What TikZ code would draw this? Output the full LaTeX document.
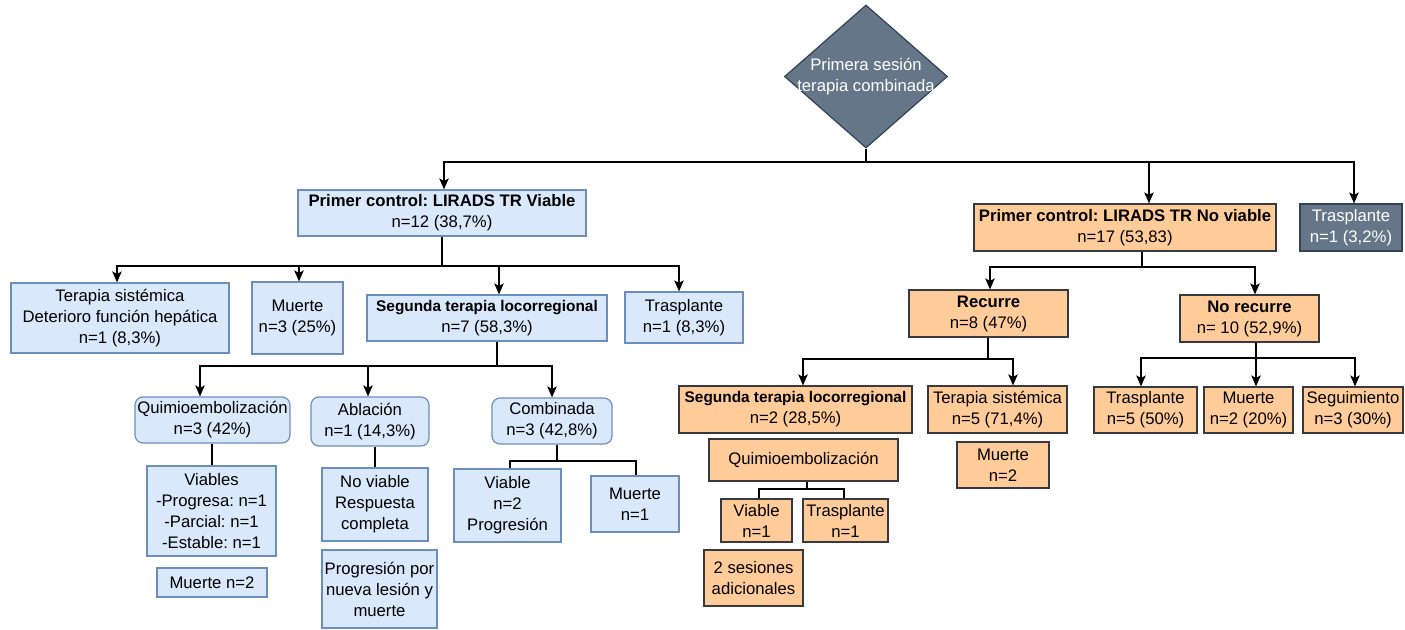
\documentclass[tikz,border=0pt]{standalone}
\usepackage{fontspec}
\setmainfont{Liberation Sans}
\usetikzlibrary{shapes.geometric,arrows.meta,calc}
\definecolor{bfill}{HTML}{DAE8FC}
\definecolor{bdraw}{HTML}{6C8EBF}
\definecolor{ofill}{HTML}{FFCC99}
\definecolor{odraw}{HTML}{36393D}
\definecolor{gfill}{HTML}{647687}
\definecolor{gdraw}{HTML}{314354}
\frenchspacing
\newcommand\fs{\fontsize{16.7}{21}\selectfont}
\newcommand\fsb{\fontsize{15.4}{21}\selectfont}
\newcommand\mkbox[7]{\node[#2,minimum width={(#5-#3)*1pt},minimum height={(#6-#4)*1pt}] (#1) at ({(#3+#5)/2},{(#4+#6)/2}) {#7};}
\tikzset{
  box/.style={draw, line width=1.2pt, align=center, inner sep=1pt, font=\fs, text=black},
  bluebox/.style={box, fill=bfill, draw=bdraw},
  orangebox/.style={box, fill=ofill, draw=odraw},
  greybox/.style={box, fill=gfill, draw=gdraw, text=white},
  rnd/.style={rounded corners=8pt},
  ln/.style={line width=1.3pt, draw=black},
  arr/.style={ln, -{Stealth[length=11pt,width=9.5pt,inset=2.5pt]}}
}
\begin{document}
\begin{tikzpicture}[x=1pt,y=-1pt]
\useasboundingbox (0,0) rectangle (1405,629);
% root
\node[diamond, fill=gfill, draw=gdraw, line width=1.2pt, minimum width=163pt, minimum height=143pt, inner sep=0pt] (root) at (866,76.5) {};
\node[font=\fs, text=white, align=center, inner sep=0pt] (rootlbl) at (root.center) {Primera sesión\\terapia combinada};
% left branch
\mkbox{pv}{bluebox}{298}{190}{586}{236}{\textbf{Primer control: LIRADS TR Viable}\\n=12 (38,7\%)}
\mkbox{tsL}{bluebox}{11}{283}{229}{353}{Terapia sistémica\\Deterioro función hepática\\n=1 (8,3\%)}
\mkbox{mL}{bluebox}{252}{282}{343}{354}{Muerte\\n=3 (25\%)}
\mkbox{sgL}{bluebox}{367}{295}{607}{341}{{\fsb\textbf{Segunda terapia locorregional}}\\n=7 (58,3\%)}
\mkbox{trL}{bluebox}{625}{292}{743}{343}{Trasplante\\n=1 (8,3\%)}
\mkbox{qL}{bluebox,rnd}{135}{397}{290}{443}{Quimioembolización\\n=3 (42\%)}
\mkbox{abL}{bluebox,rnd}{311}{397}{429}{446}{Ablación\\n=1 (14,3\%)}
\mkbox{cbL}{bluebox,rnd}{492}{398}{612}{444}{Combinada\\n=3 (42,8\%)}
\mkbox{vbL}{bluebox}{147}{466}{276}{556}{Viables\\-Progresa: n=1\\-Parcial: n=1\\-Estable: n=1}
\mkbox{m2L}{bluebox}{157}{568}{267}{597}{Muerte n=2}
\mkbox{nvL}{bluebox}{322}{468}{428}{541}{No viable\\Respuesta\\completa}
\mkbox{prL}{bluebox}{322}{550}{437}{628}{Progresión por\\nueva lesión y\\muerte}
\mkbox{vL}{bluebox}{454}{469}{561}{542}{Viable\\n=2\\Progresión}
\mkbox{m1L}{bluebox}{591}{476}{679}{532}{Muerte\\n=1}
% right branch
\mkbox{pnv}{orangebox}{974}{204}{1276}{251}{\textbf{Primer control: LIRADS TR No viable}\\n=17 (53,83)}
\mkbox{trG}{greybox}{1300}{204}{1402}{251}{Trasplante\\n=1 (3,2\%)}
\mkbox{rec}{orangebox}{909}{290}{1068}{337}{\textbf{Recurre}\\n=8 (47\%)}
\mkbox{nrec}{orangebox}{1180}{295}{1319}{342}{\textbf{No recurre}\\n= 10 (52,9\%)}
\mkbox{sgR}{orangebox}{679}{386}{912}{433}{{\fsb\textbf{Segunda terapia locorregional}}\\n=2 (28,5\%)}
\mkbox{tsR}{orangebox}{928}{386}{1067}{433}{Terapia sistémica\\n=5 (71,4\%)}
\mkbox{qR}{orangebox}{709}{439}{898}{481}{Quimioembolización}
\mkbox{m2R}{orangebox}{957}{442}{1049}{488}{Muerte\\n=2}
\mkbox{vR}{orangebox}{721}{499}{792}{542}{Viable\\n=1}
\mkbox{tR}{orangebox}{803}{499}{888}{542}{Trasplante\\n=1}
\mkbox{sesR}{orangebox}{704}{550}{803}{606}{2 sesiones\\adicionales}
\mkbox{trR}{orangebox}{1094}{387}{1197}{433}{Trasplante\\n=5 (50\%)}
\mkbox{mR}{orangebox}{1204}{387}{1293}{433}{Muerte\\n=2 (20\%)}
\mkbox{segR}{orangebox}{1303}{387}{1403}{433}{Seguimiento\\n=3 (30\%)}
% junctions
\coordinate (j0) at (866,162);
\coordinate (j1) at (442,266);
\coordinate (j2) at (497,366);
\coordinate (j3) at (557,461);
\coordinate (j4) at (1142,267);
\coordinate (j5) at (988,359);
\coordinate (j6) at (1256,358);
\coordinate (j7) at (807,489);
% connectors
\draw[ln] (root.south) -- (j0);
\draw[arr] (j0) -| ([xshift=2pt]pv.north);
\draw[arr] (j0) -| ([xshift=24pt]pnv.north);
\draw[arr] (j0) -| ([xshift=3pt]trG.north);
\draw[ln] (pv.south) -- (j1);
\draw[arr] (j1) -| ([xshift=-3pt]tsL.north);
\draw[arr] (j1) -| ([xshift=1.5pt]mL.north);
\draw[arr] (j1) -| ([xshift=12pt]sgL.north);
\draw[arr] (j1) -| ([xshift=-5pt]trL.north);
\draw[ln] ([xshift=10pt]sgL.south) -- (j2);
\draw[arr] (j2) -| ([xshift=-12.5pt]qL.north);
\draw[arr] (j2) -| ([xshift=-2pt]abL.north);
\draw[arr] (j2) -| (cbL.north);
\draw[ln] ([xshift=-0.5pt]qL.south) -- ([xshift=-0.5pt]qL.south |- vbL.north);
\draw[ln] ([xshift=5pt]abL.south) -- (nvL.north);
\draw[ln] ([xshift=5pt]cbL.south) -- (j3);
\draw[ln] (j3) -| ([xshift=2.5pt]vL.north);
\draw[ln] (j3) -| ([xshift=1pt]m1L.north);
\draw[ln] ([xshift=17pt]pnv.south) -- (j4);
\draw[arr] (j4) -| ([xshift=1.5pt]rec.north);
\draw[arr] (j4) -| ([xshift=5.5pt]nrec.north);
\draw[ln] ([xshift=-0.5pt]rec.south) -- (j5);
\draw[arr] (j5) -| ([xshift=7.5pt]sgR.north);
\draw[arr] (j5) -| ([xshift=15.5pt]tsR.north);
\draw[ln] ([xshift=6.5pt]nrec.south) -- (j6);
\draw[arr] (j6) -| ([xshift=-4.5pt]trR.north);
\draw[arr] (j6) -| ([xshift=7.5pt]mR.north);
\draw[arr] (j6) -| ([xshift=2pt]segR.north);
\draw[ln] ([xshift=3.5pt]qR.south) -- (j7);
\draw[ln] (j7) -| ([xshift=2.5pt]vR.north);
\draw[ln] (j7) -| ([xshift=-1.5pt]tR.north);
\end{tikzpicture}
\end{document}
